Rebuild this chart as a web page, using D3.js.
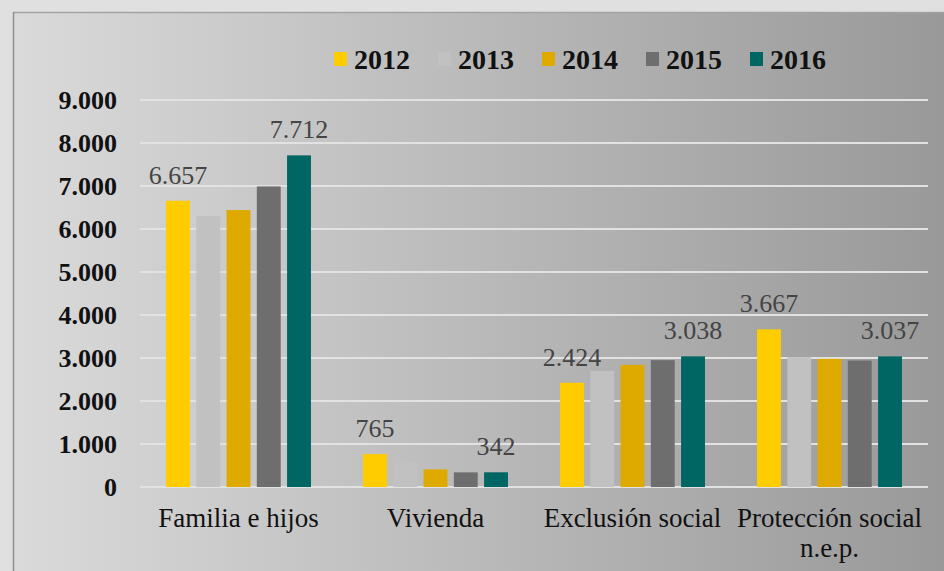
<!DOCTYPE html>
<html>
<head>
<meta charset="utf-8">
<script src="https://cdn.jsdelivr.net/npm/d3@7"></script>
<style>
  html, body { margin: 0; padding: 0; background: #e0e0e0; }
  svg { display: block; }
</style>
</head>
<body>
<div id="chart"></div>
<script>
// Gasto por función (miles), 2012–2016
const categories = [["Familia e hijos"], ["Vivienda"], ["Exclusión social"], ["Protección social", "n.e.p."]];
const years = ["2012", "2013", "2014", "2015", "2016"];
const values2012 = [6657, 765, 2424, 3667];
const values2013 = [6300, 575, 2700, 3020];
const values2014 = [6440, 410, 2840, 2980];
const values2015 = [6990, 340, 2950, 2940];
const values2016 = [7712, 342, 3038, 3037];
const yTicks = [0, 1000, 2000, 3000, 4000, 5000, 6000, 7000, 8000, 9000];
const labelledYears = ["2012", "2016"];
const colors = ["#ffcc00", "#c1c1c1", "#dfaa00", "#6e6e6e", "#006663"];

const series = [values2012, values2013, values2014, values2015, values2016];
const W = 944, H = 571;
const fmt = v => d3.format(",")(v).replace(/,/g, ".");

const svg = d3.select("#chart").append("svg").attr("width", W).attr("height", H);

// panel background
const grad = svg.append("defs").append("linearGradient")
  .attr("id", "panel").attr("x1", "0%").attr("x2", "100%").attr("y1", "0%").attr("y2", "0%");
grad.append("stop").attr("offset", "0%").attr("stop-color", "#dadada");
grad.append("stop").attr("offset", "100%").attr("stop-color", "#999999");

svg.append("rect").attr("width", W).attr("height", H).attr("fill", "#e0e0e0");
svg.append("rect").attr("x", 13).attr("y", 12).attr("width", W - 13).attr("height", H - 12)
  .attr("fill", "url(#panel)");
svg.append("line").attr("x1", 13).attr("x2", W).attr("y1", 12.5).attr("y2", 12.5)
  .attr("stroke", "#a3a3a3").attr("stroke-width", 1.5);
svg.append("line").attr("x1", 13.5).attr("x2", 13.5).attr("y1", 12).attr("y2", H)
  .attr("stroke", "#8f8f8f").attr("stroke-width", 1.5);

const x0 = d3.scaleBand().domain(d3.range(categories.length)).range([140, 928]).padding(0);
const x1 = d3.scaleBand().domain(years).range([0, x0.bandwidth()]).paddingInner(0.21).paddingOuter(0.86);
const y = d3.scaleLinear().domain([0, 9000]).range([487, 100]);

const serif = "'Liberation Serif', 'Times New Roman', serif";

// gridlines
svg.append("g").selectAll("line").data(yTicks).join("line")
  .attr("x1", 140).attr("x2", 928)
  .attr("y1", d => y(d)).attr("y2", d => y(d))
  .attr("stroke", "#e2e2e2").attr("stroke-width", 2);

// y axis
const yAxis = svg.append("g").attr("transform", "translate(117,0)")
  .call(d3.axisLeft(y).tickValues(yTicks).tickFormat(fmt).tickSize(0).tickPadding(0));
yAxis.select(".domain").remove();
yAxis.selectAll("text")
  .attr("font-family", serif).attr("font-weight", "bold").attr("font-size", 26)
  .attr("fill", "#111").attr("dy", "0.34em");

// bars
const groups = svg.append("g").selectAll("g").data(categories).join("g")
  .attr("transform", (d, i) => `translate(${x0(i)},0)`);

groups.each(function (cat, ci) {
  const g = d3.select(this);
  years.forEach((yr, si) => {
    const v = series[si][ci];
    g.append("rect")
      .attr("x", x1(yr)).attr("width", x1.bandwidth())
      .attr("y", y(v)).attr("height", y(0) - y(v))
      .attr("fill", colors[si]);
    if (labelledYears.includes(yr)) {
      g.append("text")
        .attr("x", x1(yr) + x1.bandwidth() / 2).attr("y", y(v) - 17)
        .attr("text-anchor", "middle")
        .attr("font-family", serif).attr("font-size", 26)
        .attr("fill", "#444").text(fmt(v));
    }
  });
  const t = g.append("text").attr("text-anchor", "middle")
    .attr("font-family", serif).attr("font-size", 27).attr("fill", "#111");
  cat.forEach((line, li) => {
    t.append("tspan").attr("x", x0.bandwidth() / 2).attr("y", 527 + li * 30).text(line);
  });
});

// legend
const legend = svg.append("g").selectAll("g").data(years).join("g")
  .attr("transform", (d, i) => `translate(${334 + i * 104},52)`);
legend.append("rect").attr("width", 13).attr("height", 14).attr("fill", (d, i) => colors[i]);
legend.append("text").attr("x", 20).attr("y", 17)
  .attr("font-family", serif).attr("font-weight", "bold").attr("font-size", 28)
  .attr("fill", "#111").text(d => d);
</script>
</body>
</html>
